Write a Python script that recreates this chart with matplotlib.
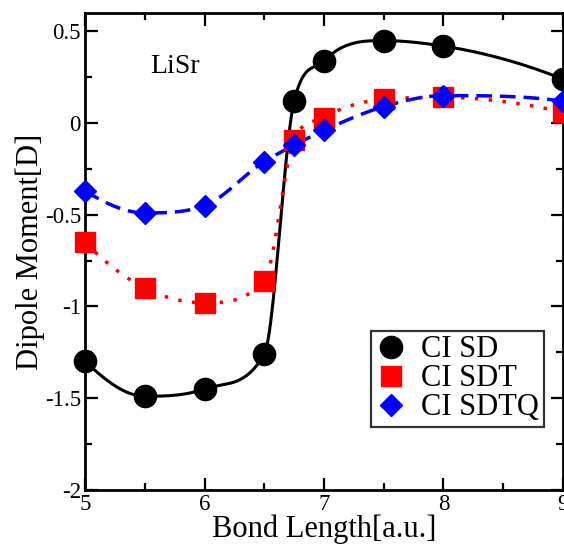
import numpy as np
import matplotlib
matplotlib.use("Agg")
import matplotlib.pyplot as plt
from matplotlib.ticker import MultipleLocator, FormatStrFormatter

plt.rcParams["font.family"] = ["Liberation Serif", "DejaVu Serif"]
plt.rcParams["axes.unicode_minus"] = False

# Data
bond = [5.0, 5.5, 6.0, 6.5, 6.75, 7.0, 7.5, 8.0, 9.0]
ci_sd = [-1.30, -1.49, -1.45, -1.26, 0.12, 0.34, 0.45, 0.42, 0.24]
ci_sdt = [-0.65, -0.90, -0.98, -0.86, -0.09, 0.03, 0.13, 0.14, 0.06]
ci_sdtq = [-0.37, -0.49, -0.45, -0.21, -0.12, -0.04, 0.09, 0.15, 0.12]


def smooth(x, y, n=400):
    # cubic hermite through the points, 3-point slopes limited so it doesn't overshoot
    x = np.asarray(x, float)
    y = np.asarray(y, float)
    h = np.diff(x)
    d = np.diff(y) / h
    m = np.gradient(y, x, edge_order=2)
    for k in range(len(x)):
        left = d[k - 1] if k > 0 else d[0]
        right = d[k] if k < len(d) else d[-1]
        if left * right <= 0 or np.sign(m[k]) != np.sign(left):
            m[k] = 0
            continue
        lim = 3 * min(abs(left), abs(right))
        m[k] = np.sign(m[k]) * min(abs(m[k]), lim)
    xs = np.linspace(x[0], x[-1], n)
    idx = np.clip(np.searchsorted(x, xs) - 1, 0, len(x) - 2)
    t = (xs - x[idx]) / h[idx]
    h00 = 2 * t**3 - 3 * t**2 + 1
    h10 = t**3 - 2 * t**2 + t
    h01 = -2 * t**3 + 3 * t**2
    h11 = t**3 - t**2
    ys = h00 * y[idx] + h10 * h[idx] * m[idx] + h01 * y[idx + 1] + h11 * h[idx] * m[idx + 1]
    return xs, ys


fig = plt.figure(figsize=(5.64, 5.46), dpi=100)
ax = fig.add_axes([0.151, 0.103, 0.847, 0.873])

series = [
    (ci_sd, "CI SD", "k", "-", 2.2, "o", 16),
    (ci_sdt, "CI SDT", "red", (0, (1, 3)), 2.5, "s", 14.5),
    (ci_sdtq, "CI SDTQ", "blue", (0, (4.5, 2.3)), 2.5, "D", 11),
]
handles = []
for vals, lab, col, ls, lw, mk, ms in series:
    xs, ys = smooth(bond, vals)
    ax.plot(xs, ys, color=col, ls=ls, lw=lw, zorder=2)
    h, = ax.plot(bond, vals, ls="none", marker=mk, ms=ms, color=col,
                 mec=col, label=lab, zorder=3, clip_on=False)
    handles.append(h)

ax.set_xlim(5, 9)
ax.set_ylim(-2, 0.6)
ax.xaxis.set_major_locator(MultipleLocator(1))
ax.xaxis.set_minor_locator(MultipleLocator(0.5))
ax.yaxis.set_major_locator(MultipleLocator(0.5))
ax.yaxis.set_minor_locator(MultipleLocator(0.25))
ax.xaxis.set_major_formatter(FormatStrFormatter("%g"))
ax.yaxis.set_major_formatter(FormatStrFormatter("%g"))
ax.tick_params(which="both", direction="in", top=True, right=True, width=1.6,
               labelsize=16.5, pad=3)
ax.tick_params(which="major", length=9)
ax.tick_params(which="minor", length=5)
for s in ax.spines.values():
    s.set_linewidth(2)

ax.set_xlabel("Bond Length[a.u.]", fontsize=22, labelpad=0)
ax.set_ylabel("Dipole Moment[D]", fontsize=22, labelpad=0)
ax.text(0.188, 0.887, "LiSr", transform=ax.transAxes, fontsize=20,
        ha="center", va="center")

leg = ax.legend(handles=handles, loc="lower right", bbox_to_anchor=(0.960, 0.132),
                borderaxespad=0, fontsize=22, frameon=True, fancybox=False,
                labelspacing=0.0, handletextpad=0.5, borderpad=0.15,
                handlelength=1.0)
leg.get_frame().set_edgecolor("k")
leg.get_frame().set_linewidth(1.6)

fig.savefig("out.png", dpi=100)
